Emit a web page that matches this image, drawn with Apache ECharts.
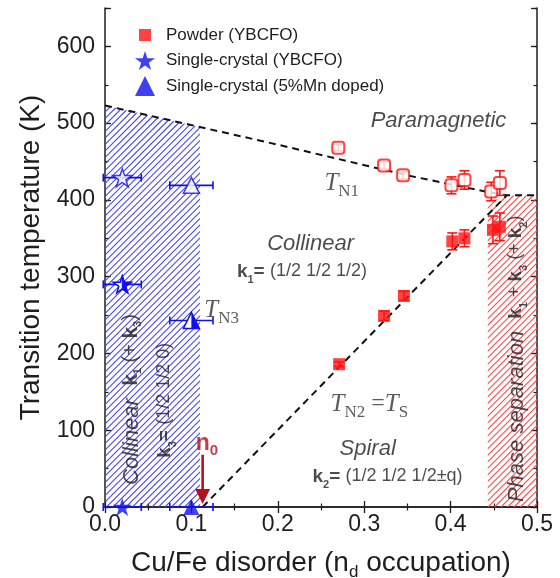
<!DOCTYPE html>
<html>
<head>
<meta charset="utf-8">
<title>YBCFO phase diagram</title>
<script src="https://cdn.jsdelivr.net/npm/echarts@6.0.0/dist/echarts.min.js"></script>
<style>
  html, body { margin: 0; padding: 0; background: #fff; }
  #chart { width: 560px; height: 578px; }
</style>
</head>
<body>
<div id="chart"></div>
<script>
// powder YBCFO: T_N1 (open squares) and T_N2 = T_S (filled squares)
const tn1X = [0.270, 0.323, 0.345, 0.401, 0.416, 0.447, 0.457]
const tn1Y = [468, 445, 432, 419, 426, 411, 422]
const tn1Err = [4, 5, 5, 11, 12, 12, 16]

const tn2X = [0.271, 0.323, 0.346, 0.402, 0.416, 0.449, 0.457]
const tn2Y = [186, 249, 275, 346, 350, 361, 365]
const tn2Err = [3, 6, 6, 11, 11, 18, 18]

// single crystals, in order: open (T_N1), half (T_N3), filled (T = 0)
const starX = [0.02, 0.02, 0.02]
const starY = [429, 290, 0]
const starXErr = [0.022, 0.022, 0.022]
const triX = [0.10, 0.10, 0.10]
const triY = [419, 243, 0]
const triXErr = [0.025, 0.025, 0.025]

// phase boundaries (dashed)
const bound1X = [0, 0.2, 0.35, 0.44, 0.465, 0.5]
const bound1Y = [523, 472, 432, 411, 406, 406]
const bound2X = [0.113, 0.465]
const bound2Y = [0, 406]

// hatched zones
const blueZoneX = [0, 0.11]
const blueZoneTop = [523, 495]
const redZoneX = [0.443, 0.465, 0.5]
const redZoneTop = [396, 406, 406]

// n0 arrow: x, from, to
const n0Arrow = [0.113, 68, 4]

const xTickLabels = ['0.0', '0.1', '0.2', '0.3', '0.4', '0.5']
const yTickLabels = ['0', '100', '200', '300', '400', '500', '600']

// annotations
const noteText = [
  '{it|Paramagnetic}',
  '{T|T}{s|N1}',
  '{it|Collinear}',
  '{k|k}{ks|1}{k|= }{n|(1/2 1/2 1/2)}',
  '{T|T}{s|N3}',
  '{T|T}{s|N2}{eq| =}{T|T}{s|S}',
  '{it|Spiral}',
  '{k|k}{ks|2}{k|= }{n|(1/2 1/2 1/2±q)}',
  '{it|Collinear  }{kl|k}{ks|1}{nl| (+ }{kl|k}{ks|3}{nl|)}',
  '{k|k}{ks|3}{k|= }{n|(1/2 1/2 0)}',
  '{it|Phase separation  }{k|k}{ks|1}{n| + }{k|k}{ks|3}{n| (+ }{k|k}{ks|2}{n|)}',
  '{nb|n}{nbs|0}',
]
const noteX = [0.386, 0.274, 0.238, 0.228, 0.135, 0.306, 0.304, 0.327, 0.032, 0.070, 0.478, 0.118]
const noteY = [502, 422, 341, 306, 256, 134, 74, 39, 140, 139, 193, 82]
const noteRotate = [0, 0, 0, 0, 0, 0, 0, 0, 90, 90, 90, 0]

const RED = '#ff1414'
const BLUE = '#1010ee'
const DARKRED = '#b3121c'
const INK = '#1e1e1e'

const STAR = 'path://M50,0 L61.2,34.55 L97.55,34.55 L68.2,55.9 L79.4,90.45 L50,69.1 L20.6,90.45 L31.8,55.9 L2.45,34.55 L38.8,34.55 Z'
const SQUARE_ICON = 'path://M0,0 M20,20 M4,4 L16,4 L16,16 L4,16 Z'
// unit star, outer radius 1, for the half-filled custom markers
const starPts = [[0, -1], [0.2245, -0.309], [0.951, -0.309], [0.363, 0.118], [0.588, 0.809],
  [0, 0.382], [-0.588, 0.809], [-0.363, 0.118], [-0.951, -0.309], [-0.2245, -0.309]]
const starRight = [[0, -1], [0.2245, -0.309], [0.951, -0.309], [0.363, 0.118], [0.588, 0.809], [0, 0.382]]

const zip = (xs, ys) => xs.map((x, i) => [x, ys[i]])

// diagonal hatching of the zone under xs/tops, clipped to that polygon
function hatchZone(xs, tops, color) {
  return function (params, api) {
    if (params.dataIndex !== 0) return null
    const pts = xs.map((x, i) => api.coord([x, tops[i]]))
    pts.push(api.coord([xs[xs.length - 1], 0]), api.coord([xs[0], 0]))
    const px = pts.map(p => p[0]), py = pts.map(p => p[1])
    const minX = Math.min(...px), maxX = Math.max(...px)
    const minY = Math.min(...py), maxY = Math.max(...py)
    const h = maxY - minY
    const lines = []
    for (let x0 = minX - h; x0 <= maxX; x0 += 6.5) {
      lines.push({
        type: 'line',
        shape: { x1: x0, y1: maxY, x2: x0 + h, y2: minY },
        style: { stroke: color, lineWidth: 1.1 },
      })
    }
    return { type: 'group', children: lines, clipPath: { type: 'polygon', shape: { points: pts } } }
  }
}

function errBars(color, horizontal) {
  return function (params, api) {
    const x = api.value(0), y = api.value(1), e = api.value(2)
    const a = horizontal ? api.coord([x - e, y]) : api.coord([x, y + e])
    const b = horizontal ? api.coord([x + e, y]) : api.coord([x, y - e])
    const w = horizontal ? 4 : 5
    const style = { stroke: color, lineWidth: 1.6 }
    const cap = (p) => horizontal
      ? { type: 'line', shape: { x1: p[0], y1: p[1] - w, x2: p[0], y2: p[1] + w }, style }
      : { type: 'line', shape: { x1: p[0] - w, y1: p[1], x2: p[0] + w, y2: p[1] }, style }
    return {
      type: 'group',
      children: [
        { type: 'line', shape: { x1: a[0], y1: a[1], x2: b[0], y2: b[1] }, style },
        cap(a), cap(b),
      ],
    }
  }
}

function halfMarker(params, api) {
  const c = api.coord([api.value(0), api.value(1)])
  if (api.value(2) === 0) {
    const r = 9.5, dy = 0.0955 * r
    const pts = (list) => list.map(p => [c[0] + p[0] * r, c[1] + p[1] * r + dy])
    return {
      type: 'group',
      children: [
        { type: 'polygon', shape: { points: pts(starPts) }, style: { fill: '#fff', stroke: BLUE, lineWidth: 1.5 } },
        { type: 'polygon', shape: { points: pts(starRight) }, style: { fill: BLUE, stroke: BLUE, lineWidth: 1 } },
      ],
    }
  }
  const h = 8
  return {
    type: 'group',
    children: [
      { type: 'polygon', shape: { points: [[c[0], c[1] - h], [c[0] + h, c[1] + h], [c[0] - h, c[1] + h]] }, style: { fill: '#fff', stroke: BLUE, lineWidth: 1.5 } },
      { type: 'polygon', shape: { points: [[c[0], c[1] - h], [c[0] + h, c[1] + h], [c[0], c[1] + h]] }, style: { fill: BLUE } },
    ],
  }
}

function arrow(params, api) {
  const x = api.value(0)
  const top = api.coord([x, api.value(1)])
  const tip = api.coord([x, api.value(2)])
  const len = 15, half = 7.5
  return {
    type: 'group',
    children: [
      { type: 'line', shape: { x1: top[0], y1: top[1], x2: tip[0], y2: tip[1] - len + 2 }, style: { stroke: DARKRED, lineWidth: 2.6 } },
      { type: 'polygon', shape: { points: [[tip[0] - half, tip[1] - len], [tip[0] + half, tip[1] - len], [tip[0], tip[1]]] }, style: { fill: DARKRED } },
    ],
  }
}

const rich = {
  it: { fontSize: 22, fontStyle: 'italic', color: INK, lineHeight: 24, verticalAlign: 'top' },
  T: { fontSize: 25, fontStyle: 'italic', fontFamily: 'Liberation Serif', color: '#333', lineHeight: 25, verticalAlign: 'top' },
  s: { fontSize: 17, fontFamily: 'Liberation Serif', color: '#333', lineHeight: 17, padding: [12, 0, 0, 0], verticalAlign: 'top' },
  eq: { fontSize: 24, fontFamily: 'Liberation Serif', color: '#333', lineHeight: 25, verticalAlign: 'top' },
  k: { fontSize: 19, fontWeight: 'bold', color: INK, lineHeight: 20, verticalAlign: 'top' },
  kl: { fontSize: 21, fontWeight: 'bold', color: INK, lineHeight: 22, verticalAlign: 'top' },
  ks: { fontSize: 11, fontWeight: 'bold', color: INK, lineHeight: 11, padding: [12, 0, 0, 0], verticalAlign: 'top' },
  n: { fontSize: 18, color: INK, lineHeight: 20, verticalAlign: 'top' },
  nl: { fontSize: 20, color: INK, lineHeight: 22, verticalAlign: 'top' },
  nb: { fontSize: 23, fontWeight: 'bold', color: DARKRED, lineHeight: 23, verticalAlign: 'top' },
  nbs: { fontSize: 15, fontWeight: 'bold', color: DARKRED, lineHeight: 15, padding: [11, 0, 0, 0], verticalAlign: 'top' },
}

const axisLine = { show: true, lineStyle: { color: INK, width: 1.5 } }
const majorTick = { show: true, inside: true, length: 6, lineStyle: { color: INK, width: 1.3 } }
const minorTick = { show: true, inside: true, length: 3.5, lineStyle: { color: INK, width: 1.2 } }

function yAxis(position, interval, main) {
  return {
    type: 'value', position, min: 0, max: 650, interval,
    axisLine: main ? axisLine : { show: false },
    axisTick: interval === 100 ? majorTick : minorTick,
    axisLabel: main && position === 'left'
      ? { show: true, fontSize: 23, color: INK, margin: 10, formatter: v => (v % 100 === 0 ? yTickLabels[v / 100] : '') }
      : { show: false },
    splitLine: { show: false },
  }
}

const chart = echarts.init(document.getElementById('chart'), null, { renderer: 'canvas' })

chart.setOption({
  animation: false,
  backgroundColor: '#fff',
  textStyle: { fontFamily: 'Liberation Sans, Arial, sans-serif' },
  grid: { left: 105, right: 23, top: 8, bottom: 71, outerBoundsMode: 'none', containLabel: false },
  legend: {
    orient: 'vertical', left: 130, top: 20,
    itemWidth: 20, itemHeight: 20, itemGap: 6,
    textStyle: { fontSize: 17, color: INK, padding: [0, 0, 0, 6] },
    data: [
      { name: 'Powder (YBCFO)', icon: SQUARE_ICON },
      { name: 'Single-crystal (YBCFO)', icon: STAR },
      { name: 'Single-crystal (5%Mn doped)', icon: 'triangle' },
    ],
    selectedMode: false,
  },
  xAxis: [
    {
      type: 'value', position: 'bottom', min: 0, max: 0.5, interval: 0.1,
      axisLine, axisTick: majorTick,
      minorTick: { ...minorTick, splitNumber: 2 },
      axisLabel: { fontSize: 23, color: INK, margin: 6, formatter: v => xTickLabels[Math.round(v * 10)] },
      splitLine: { show: false },
      name: '{a|Cu/Fe disorder (n}{b|d}{a| occupation)}',
      nameLocation: 'middle', nameGap: 42,
      nameTextStyle: {
        rich: {
          a: { fontSize: 28, color: INK, lineHeight: 30, verticalAlign: 'top' },
          b: { fontSize: 17, color: INK, lineHeight: 17, padding: [15, 0, 0, 0], verticalAlign: 'top' },
        },
      },
    },
    {
      type: 'value', position: 'top', min: 0, max: 0.5, interval: 0.1,
      axisLine, axisTick: majorTick,
      minorTick: { ...minorTick, splitNumber: 2 },
      axisLabel: { show: false }, splitLine: { show: false },
    },
  ],
  yAxis: [
    {
      ...yAxis('left', 100, true),
      name: 'Transition temperature (K)', nameLocation: 'middle', nameGap: 56,
      nameTextStyle: { fontSize: 28, color: INK },
    },
    yAxis('left', 50, false),
    yAxis('right', 100, true),
    yAxis('right', 50, false),
  ],
  series: [
    {
      type: 'custom', renderItem: hatchZone(blueZoneX, blueZoneTop, '#4646f0'),
      data: zip(blueZoneX, blueZoneTop), encode: { x: 0, y: 1 }, silent: true, z: 1,
    },
    {
      type: 'custom', renderItem: hatchZone(redZoneX, redZoneTop, '#ff4646'),
      data: zip(redZoneX, redZoneTop), encode: { x: 0, y: 1 }, silent: true, z: 1,
    },
    {
      type: 'line', data: zip(bound1X, bound1Y), symbol: 'none', silent: true, z: 2,
      lineStyle: { color: '#111', width: 2, type: [7, 5] },
    },
    {
      type: 'line', data: zip(bound2X, bound2Y), symbol: 'none', silent: true, z: 2,
      lineStyle: { color: '#111', width: 2, type: [7, 5] },
    },
    {
      type: 'custom', renderItem: errBars(RED, false), silent: true, z: 3, clip: false,
      encode: { x: 0, y: 1 },
      data: tn1X.map((x, i) => [x, tn1Y[i], tn1Err[i]]).concat(tn2X.map((x, i) => [x, tn2Y[i], tn2Err[i]])),
    },
    {
      type: 'custom', renderItem: errBars(BLUE, true), silent: true, z: 3, clip: false,
      encode: { x: 0, y: 1 },
      data: starX.map((x, i) => [x, starY[i], starXErr[i]]).concat(triX.map((x, i) => [x, triY[i], triXErr[i]])),
    },
    {
      name: 'Powder (YBCFO)', type: 'scatter', data: zip(tn2X, tn2Y), z: 5, clip: false,
      symbol: 'rect', symbolSize: 12, itemStyle: { color: RED },
    },
    {
      name: 'Powder T_N1', type: 'scatter', data: zip(tn1X, tn1Y), z: 5, clip: false,
      symbol: 'roundRect', symbolSize: 12,
      itemStyle: { color: '#fff', borderColor: RED, borderWidth: 2 },
    },
    {
      name: 'Single-crystal (YBCFO)', type: 'scatter', data: [[starX[2], starY[2]]], z: 5, clip: false,
      symbol: STAR, symbolKeepAspect: true, symbolSize: 19, itemStyle: { color: BLUE },
    },
    {
      name: 'Single-crystal open', type: 'scatter', data: [[starX[0], starY[0]]], z: 5, clip: false,
      symbol: STAR, symbolKeepAspect: true, symbolSize: 19,
      itemStyle: { color: '#fff', borderColor: BLUE, borderWidth: 1.5 },
    },
    {
      name: 'Single-crystal (5%Mn doped)', type: 'scatter', data: [[triX[2], triY[2]]], z: 5, clip: false,
      symbol: 'triangle', symbolSize: 16, itemStyle: { color: BLUE },
    },
    {
      name: 'Mn open', type: 'scatter', data: [[triX[0], triY[0]]], z: 5, clip: false,
      symbol: 'triangle', symbolSize: 16,
      itemStyle: { color: '#fff', borderColor: BLUE, borderWidth: 1.5 },
    },
    {
      type: 'custom', renderItem: halfMarker, silent: true, z: 5, clip: false,
      encode: { x: 0, y: 1 },
      data: [[starX[1], starY[1], 0], [triX[1], triY[1], 1]],
    },
    {
      type: 'custom', renderItem: arrow, silent: true, z: 6, clip: false,
      encode: { x: 0, y: 1 },
      data: [n0Arrow],
    },
    {
      type: 'scatter', silent: true, z: 7, clip: false,
      symbolSize: 1, itemStyle: { color: 'rgba(0,0,0,0)' },
      data: noteX.map((x, i) => ({ value: [x, noteY[i]], label: { rotate: noteRotate[i] } })),
      label: {
        show: true, position: 'inside', color: INK, rich,
        formatter: p => noteText[p.dataIndex],
      },
    },
  ],
})
</script>
</body>
</html>
